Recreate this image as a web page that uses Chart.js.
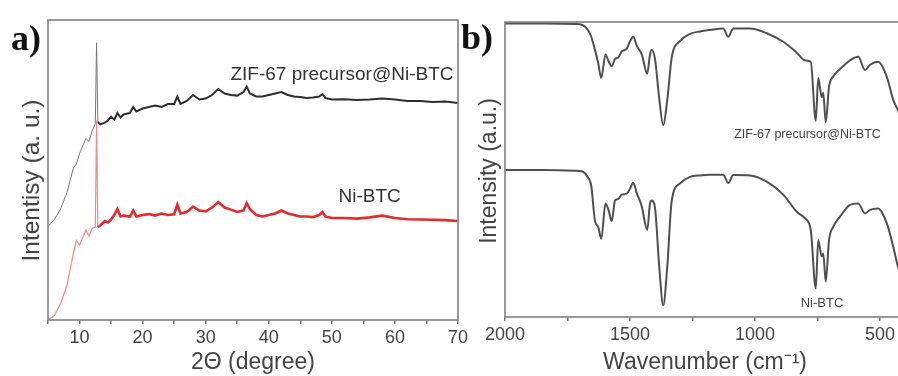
<!DOCTYPE html>
<html>
<head>
<meta charset="utf-8">
<script src="https://cdn.jsdelivr.net/npm/chart.js@4.4.1/dist/chart.umd.min.js"></script>
<style>
  html, body { margin: 0; padding: 0; background: #fff; overflow: hidden; }
  body { width: 898px; height: 376px; position: relative; }
  .panel { position: absolute; top: 0; height: 376px; }
  #pa { left: 0; width: 480px; }
  #pb { left: 440px; width: 480px; }
  .tag { position: absolute; font-family: "Liberation Serif", "Times New Roman", serif; font-weight: bold; font-size: 36px; line-height: 1; color: #111; z-index: 2; }
</style>
</head>
<body>
<div class="panel" id="pa"><canvas id="xrd"></canvas></div>
<div class="panel" id="pb"><canvas id="ftir"></canvas></div>
<div class="tag" style="left:11px; top:20px">a)</div>
<div class="tag" style="left:461px; top:19px">b)</div>
<script>
// ---- a) XRD ----
const xrdAngle = [5, 6, 7, 8, 9, 9.5, 10, 11, 11.5, 12, 12.5, 12.7, 12.9, 13.3, 14, 14.5, 15, 15.5, 16, 16.5,
  17, 18, 18.5, 19, 20, 21, 22, 23, 24, 25, 25.5, 26, 27, 28, 29, 30, 31, 32, 33, 34,
  35, 36, 36.5, 37, 38, 39, 40, 41, 42, 43, 44, 45, 46, 47, 48, 48.5, 49, 50, 52, 54,
  56, 58, 60, 62, 64, 66, 68, 70];
const zifXrd = [31.2, 33.5, 37, 42.5, 50.5, 52, 55.5, 60.5, 59.5, 63, 65.5, 92.4, 66, 65.2, 65.8, 66.5, 67.8, 66.8, 69, 67.5,
  68.5, 69, 71, 69.5, 70.5, 71, 71.5, 71, 72, 72, 74.5, 72, 73, 75, 73.5, 73.8, 75, 77, 75.5, 75,
  74.8, 76, 77.8, 75.5, 74.5, 74.5, 75, 75.5, 76, 75, 74.5, 74.3, 74, 74.2, 74.5, 75.3, 74, 73.5, 73.6, 73.3,
  73.5, 73.8, 73.5, 73, 73, 72.7, 72.8, 72.3];
const niBtcXrd = [0, 1.5, 5.5, 11.5, 22, 26.5, 25, 30, 28, 30.5, 31, 66.5, 31, 31.5, 33, 32.5, 33.5, 35, 37, 34.5,
  34.8, 34.5, 36.5, 34.5, 35, 35.3, 34.8, 35.5, 35, 35.2, 38.5, 35.5, 36, 37.8, 36.5, 36.2, 37.5, 39.3, 37.5, 36.8,
  36, 36.5, 39, 37, 35, 34.5, 35, 35.5, 36.5, 35.5, 35, 34.5, 34.5, 34.3, 35, 36, 34.5, 34, 34, 33.8,
  34.2, 34.8, 34, 33.6, 33.5, 33.4, 33.3, 33];
const xrdTickLabels = [10, 20, 30, 40, 50, 60, 70];

// ---- b) FTIR ----
const wavenumber = [2000, 1850, 1720, 1690, 1670, 1655, 1640, 1627, 1615, 1598, 1585, 1573, 1560, 1547, 1533, 1513, 1500, 1487, 1473, 1453,
  1431, 1420, 1413, 1400, 1383, 1367, 1351, 1333, 1300, 1260, 1220, 1180, 1127, 1107, 1087, 1020, 953, 887, 833, 800,
  777, 757, 747, 733, 727, 717, 704, 687, 660, 620, 587, 560, 540, 507, 473, 447, 428, 400];
const zifFtir = [99.5, 99.5, 99.3, 99, 97.5, 95, 90.5, 86, 81, 89, 86.5, 85, 87.5, 88, 90, 91, 93.5, 95, 92, 89,
  82.5, 89, 90.5, 87.5, 74, 65, 73.5, 88, 93.5, 96, 96.8, 97.3, 97.8, 95, 97.8, 97.8, 96.2, 93.3, 89.6, 87,
  86.5, 66.5, 81, 74.5, 76, 66, 78, 81.5, 84, 87, 88.2, 83.7, 85.5, 86.5, 81.5, 73.6, 70, 63];
const niBtcFtir = [49.8, 49.8, 49.6, 49.3, 47.5, 44.5, 32.5, 30.5, 26.5, 38.5, 36, 32.5, 39.5, 40, 41.5, 41.8, 43.5, 45.5, 42, 37.5,
  29.5, 38.5, 39.5, 37, 17, 4, 17, 39.5, 45.3, 47.5, 48, 48.2, 48.2, 45.4, 48.1, 48, 45.9, 41.5, 35.7, 33.4,
  29.5, 9.7, 26, 20.5, 21.5, 12, 26, 30.6, 34, 38, 38.5, 35.1, 36.3, 36.8, 31.8, 23.8, 17, 10];
const ftirTickLabels = [2000, 1500, 1000, 500];

const FONT = '"Liberation Sans", Arial, sans-serif';
const pts = (xs, ys) => xs.map((x, i) => ({ x, y: ys[i] }));

const framePlugin = {
  id: 'frame',
  afterDraw(chart, args, opts) {
    const { ctx, chartArea: a } = chart;
    ctx.save();
    ctx.strokeStyle = opts.color;
    ctx.lineWidth = opts.width;
    ctx.strokeRect(a.left, a.top, a.right - a.left, a.bottom - a.top);
    ctx.restore();
  }
};

// text notes at data coords, plus the rotated y title
const notesPlugin = {
  id: 'notes',
  afterDatasetsDraw(chart, args, opts) {
    const { ctx, scales: { x, y } } = chart;
    ctx.save();
    ctx.textAlign = 'center';
    ctx.textBaseline = 'middle';
    (opts.items || []).forEach(n => {
      ctx.font = n.font;
      ctx.fillStyle = n.color;
      ctx.fillText(n.text, x.getPixelForValue(n.x), y.getPixelForValue(n.y));
    });
    const t = opts.yTitle;
    if (t) {
      ctx.font = t.font;
      ctx.fillStyle = t.color;
      ctx.translate(t.cx, y.getPixelForValue(t.y));
      ctx.rotate(-Math.PI / 2);
      ctx.fillText(t.text, 0, 0);
    }
    ctx.restore();
  }
};

function axisX(min, max, step, labels, reverse, title, height, tickPad) {
  return {
    type: 'linear', min, max, reverse,
    border: { display: false },
    grid: { drawOnChartArea: false, drawTicks: true, tickLength: 4, color: '#777', lineWidth: 1.5 },
    ticks: {
      stepSize: step, padding: tickPad, color: '#444', maxRotation: 0, autoSkip: false, includeBounds: false,
      font: { family: FONT, size: 18 },
      callback: v => labels.includes(v) ? String(v) : ''
    },
    title: { display: true, text: title, color: '#444', padding: { top: 0, bottom: 0 }, font: { family: FONT, size: 23 } },
    afterFit: s => { s.height = height; }
  };
}

function axisY(width) {
  return {
    min: 0, max: 100,
    border: { display: false },
    grid: { display: false },
    ticks: { display: false },
    afterFit: s => { s.width = width; }
  };
}

const thinPre = ctx => ctx.p0.parsed.x < 12.9;

new Chart(document.getElementById('xrd'), {
  type: 'line',
  data: {
    datasets: [
      {
        label: 'Ni-BTC', data: pts(xrdAngle, niBtcXrd),
        borderColor: '#e8282a', borderWidth: 2.6, pointRadius: 0, tension: 0,
        segment: {
          borderWidth: c => thinPre(c) ? 1.2 : 2.6,
          borderColor: c => thinPre(c) ? '#ee8a8c' : '#e52a2c'
        }
      },
      {
        label: 'ZIF-67 precursor@Ni-BTC', data: pts(xrdAngle, zifXrd),
        borderColor: '#2b2b2b', borderWidth: 2, pointRadius: 0, tension: 0,
        segment: {
          borderWidth: c => thinPre(c) ? 1 : 2,
          borderColor: c => thinPre(c) ? '#777' : '#2e2e2e'
        }
      }
    ]
  },
  options: {
    responsive: true, maintainAspectRatio: false, animation: false,
    layout: { padding: { top: 20, right: 22, left: 0, bottom: 0 } },
    plugins: {
      legend: { display: false }, tooltip: { enabled: false },
      frame: { color: '#808080', width: 1.6 },
      notes: {
        items: [
          { text: 'ZIF-67 precursor@Ni-BTC', x: 51.6, y: 81.7, font: '19px ' + FONT, color: '#333' },
          { text: 'Ni-BTC', x: 56, y: 41.2, font: '19px ' + FONT, color: '#333' }
        ],
        yTitle: { text: 'Intentisy (a. u.)', cx: 32, y: 46.5, font: '24.5px ' + FONT, color: '#444' }
      }
    },
    scales: {
      x: axisX(5, 70, 5, xrdTickLabels, false, '2Θ (degree)', 56, 3),
      y: axisY(48)
    }
  },
  plugins: [framePlugin, notesPlugin]
});

new Chart(document.getElementById('ftir'), {
  type: 'line',
  data: {
    datasets: [
      { label: 'ZIF-67 precursor@Ni-BTC', data: pts(wavenumber, zifFtir), borderColor: '#505050', borderWidth: 2, pointRadius: 0, cubicInterpolationMode: 'monotone' },
      { label: 'Ni-BTC', data: pts(wavenumber, niBtcFtir), borderColor: '#505050', borderWidth: 2, pointRadius: 0, cubicInterpolationMode: 'monotone' }
    ]
  },
  options: {
    responsive: true, maintainAspectRatio: false, animation: false,
    layout: { padding: { top: 22, right: 15, left: 0, bottom: 0 } },
    plugins: {
      legend: { display: false }, tooltip: { enabled: false },
      frame: { color: '#808080', width: 1.6 },
      notes: {
        items: [
          { text: 'ZIF-67 precursor@Ni-BTC', x: 790, y: 61.7, font: '12.5px ' + FONT, color: '#444' },
          { text: 'Ni-BTC', x: 732, y: 4.7, font: '13px ' + FONT, color: '#444' }
        ],
        yTitle: { text: 'Intensity (a.u.)', cx: 50, y: 49.5, font: '23px ' + FONT, color: '#444' }
      }
    },
    scales: {
      x: axisX(400, 2000, 250, ftirTickLabels, true, 'Wavenumber (cm⁻¹)', 59, 3),
      y: axisY(65)
    }
  },
  plugins: [framePlugin, notesPlugin]
});
</script>
</body>
</html>
